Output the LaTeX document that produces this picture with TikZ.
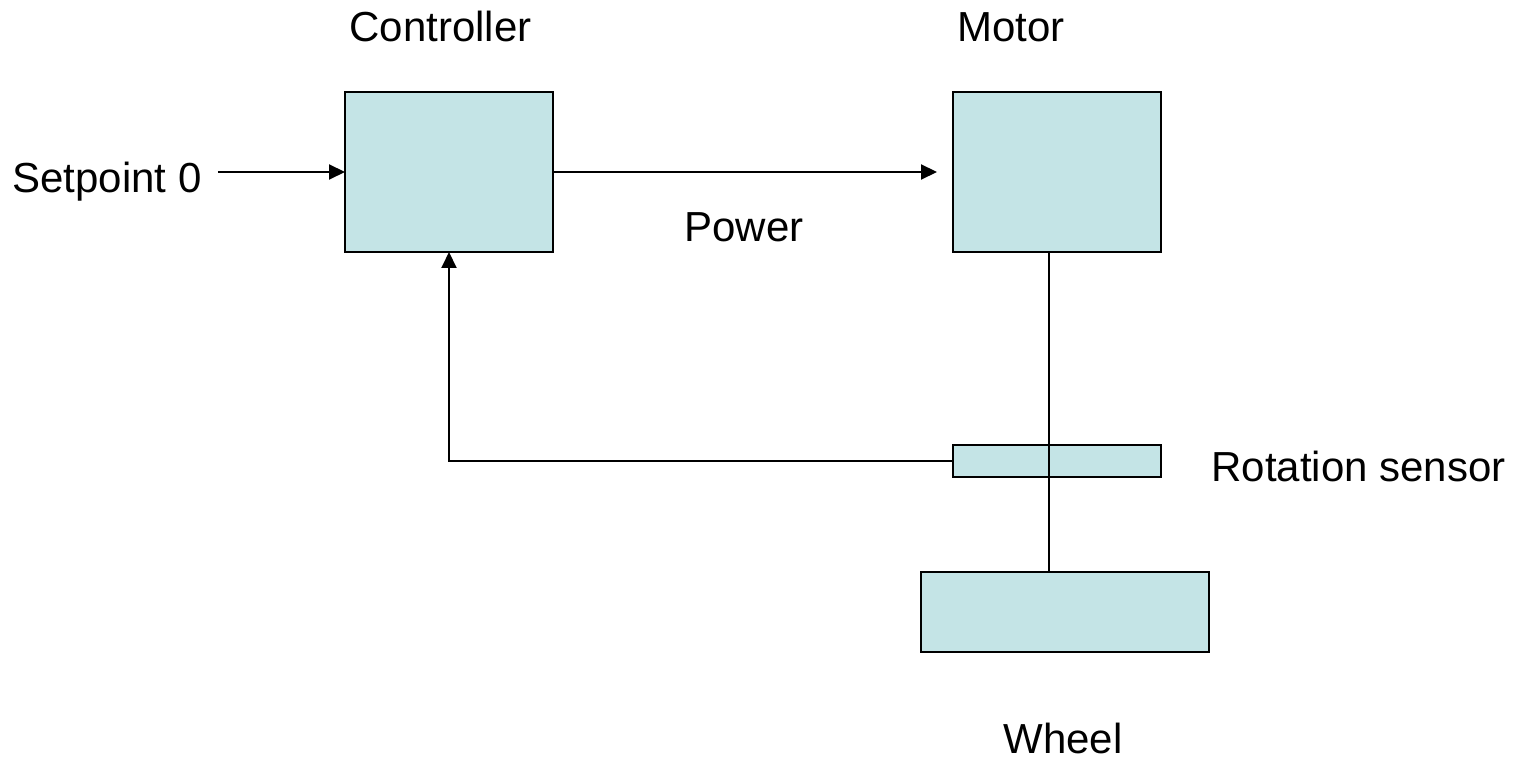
\documentclass[tikz,border=0pt]{standalone}
\usepackage{fontspec}
\setmainfont{Liberation Sans}
\usepackage{tikz}
\usetikzlibrary{arrows.meta, positioning, calc}
\usepackage{xcolor}
\definecolor{BlockFill}{HTML}{C4E4E6}
\definecolor{BlockLine}{HTML}{000000}
\tikzset{
    % Box styles - sharp corners, pale cyan
    block/.style={
        rectangle,
        draw=BlockLine,
        fill=BlockFill,
        line width=1pt,
        inner sep=0pt,
        outer sep=0pt
    },
    label/.style={
        inner sep=0pt,
        font=\fontsize{21}{25}\selectfont
    },
    % Arrow styles - straight lines only
    arrow/.style={
        ->,
        >={Triangle[length=8pt,width=7.5pt]},
        line width=1pt,
        draw=BlockLine
    },
    shaftline/.style={
        line width=1pt,
        draw=BlockLine
    }
}
\begin{document}
\begin{tikzpicture}[x=0.5pt, y=-0.5pt]
    \useasboundingbox (0,0) rectangle (1518,764);

    % blocks
    \node[block, minimum width=104pt, minimum height=80pt] (ctrl) at (449,172) {};
    \node[block, minimum width=104pt, minimum height=80pt] (motor) at (1057,172) {};
    \node[block, minimum width=104pt, minimum height=16pt] (sensor) at (1057,461) {};
    \node[block, minimum width=144pt, minimum height=40pt] (wheel) at (1065,612) {};

    % labels
    \node[label, anchor=base west] (sp) at (12,193) {Setpoint 0};
    \node[label, anchor=base west] (ctrllbl) at (349,42) {Controller};
    \node[label, anchor=base west] (motorlbl) at (957,42) {Motor};
    \node[label, anchor=base west] (powerlbl) at (684,242) {Power};
    \node[label, anchor=base west] (sensorlbl) at (1211,481) {Rotation sensor};
    \node[label, anchor=base west] (wheellbl) at (1003,753) {Wheel};

    \coordinate (shaft) at (1049,0);

    \draw[arrow] ([xshift=8pt]sp.east |- ctrl.west) -- (ctrl.west);
    \draw[arrow] (ctrl.east) -- ([xshift=-8pt]motor.west);
    \draw[arrow] (sensor.west) -| (ctrl.south);
    \draw[shaftline] (motor.south -| shaft) -- (wheel.north -| shaft);
\end{tikzpicture}
\end{document}
